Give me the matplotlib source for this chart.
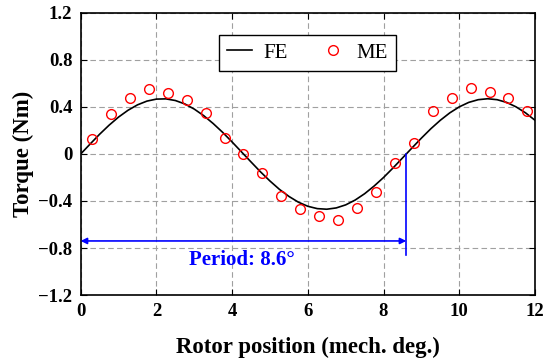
import matplotlib
matplotlib.use("Agg")
import matplotlib.pyplot as plt

plt.rcParams['font.family'] = ['Liberation Serif', 'DejaVu Serif']

# FE curve (every 0.25 deg)
fe_x = [i * 0.25 for i in range(49)]
fe_y = [0.000, 0.085, 0.168, 0.245, 0.314, 0.372, 0.418, 0.450, 0.467, 0.469,
        0.455, 0.426, 0.382, 0.326, 0.259, 0.184, 0.102, 0.017, -0.068, -0.152,
        -0.230, -0.301, -0.361, -0.410, -0.445, -0.465, -0.470, -0.459, -0.433,
        -0.392, -0.338, -0.273, -0.200, -0.119, -0.034, 0.051, 0.135, 0.215,
        0.287, 0.350, 0.401, 0.439, 0.462, 0.470, 0.462, 0.439, 0.401, 0.350,
        0.287]

# ME points
me_x = [0.3, 0.8, 1.3, 1.8, 2.3, 2.8, 3.3, 3.8, 4.3, 4.8, 5.3, 5.8,
        6.3, 6.8, 7.3, 7.8, 8.3, 8.8, 9.3, 9.8, 10.3, 10.8, 11.3, 11.8]
me_y = [0.13, 0.34, 0.48, 0.55, 0.52, 0.46, 0.35, 0.14, 0.00, -0.16, -0.36, -0.47,
        -0.53, -0.56, -0.46, -0.32, -0.08, 0.09, 0.37, 0.48, 0.56, 0.53, 0.48, 0.37]

period = 8.6
xticks = [0, 2, 4, 6, 8, 10, 12]
yticks = [-1.2, -0.8, -0.4, 0, 0.4, 0.8, 1.2]
ytick_labels = ['\u22121.2', '\u22120.8', '\u22120.4', '0', '0.4', '0.8', '1.2']

fig = plt.figure(figsize=(5.5, 3.63), dpi=100)
ax = fig.add_axes([0.1467, 0.1873, 0.826, 0.777])

ax.plot(fe_x, fe_y, '-k', lw=1.2, label='FE')
ax.plot(me_x, me_y, 'o', mfc='none', mec='red', ms=7, mew=1.0, label='ME', ls='none')

# period annotation
ax.plot([period, period], [0, -0.86], color='blue', lw=1.2)
ax.annotate('', xy=(0, -0.74), xytext=(period, -0.74),
            arrowprops=dict(arrowstyle='<|-|>', color='blue', lw=1.2,
                            mutation_scale=9, shrinkA=0, shrinkB=0))
ax.text(4.25, -0.9, 'Period: 8.6°', color='blue', fontsize=15, fontweight='bold',
        ha='center', va='center')

ax.set_xlim(0, 12)
ax.set_ylim(-1.2, 1.2)
ax.set_xticks(xticks)
ax.set_yticks(yticks)
ax.set_yticklabels(ytick_labels)
ax.grid(True, ls=(0, (5, 3)), color='#a0a0a0', lw=0.8)
ax.tick_params(direction='in', top=True, right=True, labelsize=13.5, length=4, pad=6)
for lab in ax.get_xticklabels() + ax.get_yticklabels():
    lab.set_fontweight('bold')
for s in ax.spines.values():
    s.set_linewidth(1.2)

ax.set_xlabel('Rotor position (mech. deg.)', fontsize=16.5, fontweight='bold', labelpad=12)
ax.set_ylabel('Torque (Nm)', fontsize=16.5, fontweight='bold', labelpad=3)

leg = ax.legend(loc='center', ncol=2, fontsize=15, fancybox=False, edgecolor='black',
                framealpha=1, handlelength=1.2, handletextpad=0.5,
                columnspacing=1.6, borderpad=0.4)
leg.set_bbox_to_anchor((5.99, 0.86), transform=ax.transData)
leg.get_frame().set_linewidth(1.0)

fig.savefig('out.png', dpi=100)
